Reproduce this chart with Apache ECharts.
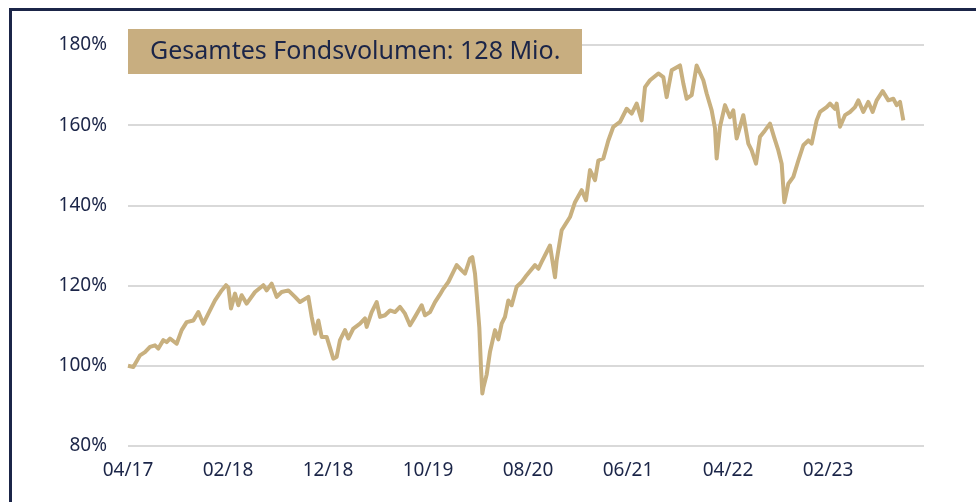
<!DOCTYPE html>
<html>
<head>
<meta charset="utf-8">
<script src="https://cdn.jsdelivr.net/npm/echarts@6/dist/echarts.min.js"></script>
<style>
  html, body { margin: 0; padding: 0; background: #fff; }
  #main { width: 976px; height: 502px; }
</style>
</head>
<body>
<div id="main"></div>
<script>
// Wertentwicklung (indexiert, 04/17 = 100%)
const dates = [
  '2017-04-01', '2017-04-17', '2017-05-07', '2017-05-22', '2017-06-07', '2017-06-22',
  '2017-07-02', '2017-07-17', '2017-07-27', '2017-08-07', '2017-08-27', '2017-09-12',
  '2017-09-27', '2017-10-17', '2017-11-02', '2017-11-17', '2017-12-02', '2017-12-22',
  '2018-01-12', '2018-01-25', '2018-02-02', '2018-02-10', '2018-02-22', '2018-03-02',
  '2018-03-12', '2018-03-27', '2018-04-22', '2018-05-17', '2018-05-27', '2018-06-12',
  '2018-06-27', '2018-07-12', '2018-08-02', '2018-08-22', '2018-09-07', '2018-10-02',
  '2018-10-12', '2018-10-22', '2018-11-02', '2018-11-12', '2018-11-27', '2018-12-17',
  '2018-12-27', '2019-01-07', '2019-01-22', '2019-02-02', '2019-02-17', '2019-03-07',
  '2019-03-22', '2019-03-27', '2019-04-12', '2019-04-27', '2019-05-07', '2019-05-22',
  '2019-06-07', '2019-06-22', '2019-07-07', '2019-07-22', '2019-08-07', '2019-08-22',
  '2019-09-12', '2019-09-22', '2019-10-07', '2019-10-22', '2019-11-07', '2019-11-17',
  '2019-12-02', '2019-12-17', '2019-12-27', '2020-01-12', '2020-01-22', '2020-02-07',
  '2020-02-14', '2020-02-22', '2020-02-27', '2020-03-05', '2020-03-10', '2020-03-14',
  '2020-03-17', '2020-03-27', '2020-04-07', '2020-04-22', '2020-05-02', '2020-05-12',
  '2020-05-22', '2020-06-02', '2020-06-12', '2020-06-27', '2020-07-12', '2020-07-27',
  '2020-08-22', '2020-09-02', '2020-09-12', '2020-10-07', '2020-10-22', '2020-10-27',
  '2020-11-12', '2020-12-07', '2020-12-22', '2021-01-12', '2021-01-25', '2021-02-07',
  '2021-02-22', '2021-03-02', '2021-03-17', '2021-04-02', '2021-04-17', '2021-05-07',
  '2021-05-27', '2021-06-12', '2021-06-27', '2021-07-12', '2021-07-22', '2021-08-07',
  '2021-09-02', '2021-09-17', '2021-09-27', '2021-10-12', '2021-11-07', '2021-11-17',
  '2021-11-27', '2021-12-12', '2021-12-27', '2022-01-17', '2022-01-27', '2022-02-12',
  '2022-02-22', '2022-02-27', '2022-03-07', '2022-03-22', '2022-04-07', '2022-04-17',
  '2022-04-27', '2022-05-17', '2022-06-02', '2022-06-12', '2022-06-25', '2022-07-07',
  '2022-07-22', '2022-08-07', '2022-08-19', '2022-09-02', '2022-09-12', '2022-09-20',
  '2022-10-02', '2022-10-17', '2022-11-02', '2022-11-17', '2022-12-02', '2022-12-12',
  '2022-12-27', '2023-01-07', '2023-01-27', '2023-02-07', '2023-02-22', '2023-02-27',
  '2023-03-07', '2023-03-22', '2023-04-07', '2023-04-22', '2023-05-02', '2023-05-17',
  '2023-06-02', '2023-06-15', '2023-06-27', '2023-07-15', '2023-08-02', '2023-08-17',
  '2023-08-27', '2023-09-07', '2023-09-17'
];
const values = [
  100.0, 99.7, 102.6, 103.4, 104.7, 105.1,
  104.3, 106.4, 105.9, 106.8, 105.5, 108.9,
  110.9, 111.3, 113.4, 110.5, 113.0, 116.3,
  118.8, 120.1, 119.5, 114.3, 118.0, 115.1,
  117.6, 115.5, 118.4, 120.1, 118.8, 120.5,
  117.2, 118.4, 118.8, 117.2, 115.9, 117.2,
  112.2, 108.0, 111.3, 107.2, 107.2, 101.8,
  102.2, 106.4, 108.9, 106.8, 109.3, 110.5,
  111.8, 109.7, 113.4, 115.9, 112.2, 112.6,
  113.8, 113.4, 114.7, 113.0, 110.1, 112.2,
  115.1, 112.6, 113.4, 115.9, 117.8, 119.2,
  120.9, 123.4, 125.1, 123.8, 123.0, 126.7,
  127.1, 123.0, 118.0, 109.5, 99.5, 93.1,
  94.5, 97.8, 103.5, 108.9, 106.6, 110.5,
  112.2, 116.3, 115.1, 119.7, 120.9, 122.6,
  125.1, 124.2, 125.9, 130.0, 122.1, 126.3,
  133.8, 137.1, 140.8, 143.8, 141.3, 148.8,
  146.3, 151.2, 151.7, 156.2, 159.6, 160.8,
  164.1, 162.9, 165.4, 161.2, 169.5, 171.2,
  172.9, 172.0, 167.0, 173.7, 174.9, 170.4,
  166.6, 167.5, 174.9, 171.2, 167.9, 163.7,
  159.2, 151.7, 159.6, 165.0, 162.0, 163.7,
  156.7, 162.5, 155.4, 153.7, 150.4, 157.1,
  158.7, 160.4, 157.1, 153.7, 150.4, 140.8,
  145.4, 147.1, 151.2, 155.0, 156.2, 155.4,
  161.2, 163.3, 164.5, 165.4, 164.1, 165.4,
  159.6, 162.5, 163.3, 164.5, 166.2, 163.3,
  165.8, 163.3, 166.2, 168.5, 166.2, 166.6,
  165.0, 165.8, 161.2
];
const yTicks = [80, 100, 120, 140, 160, 180];
const boxText = 'Gesamtes Fondsvolumen: 128 Mio.';

const navy = '#1b2548';
const gold = '#c8b07f';

// Monate seit 04/17
const monthIndex = (d) => {
  const [y, m, day] = d.split('-').map(Number);
  return (y - 2017) * 12 + (m - 4) + (day - 1) / 30;
};
const monthLabel = (v) => {
  const k = Math.round(v) + 3;
  const mm = (k % 12) + 1;
  const yy = 17 + Math.floor(k / 12);
  return (mm < 10 ? '0' : '') + mm + '/' + yy;
};

const seriesData = dates.map((d, i) => [monthIndex(d), values[i]]);

const chart = echarts.init(document.getElementById('main'), null, { renderer: 'canvas' });
chart.setOption({
  animation: false,
  backgroundColor: '#fff',
  grid: { left: 128, right: 52, top: 45, bottom: 56 },
  xAxis: {
    type: 'value',
    min: 0,
    max: 79.6,
    interval: 10,
    axisLine: { show: false },
    axisTick: { show: false },
    splitLine: { show: false },
    axisLabel: {
      color: navy,
      fontFamily: 'Noto Sans',
      fontSize: 19,
      margin: 15,
      showMaxLabel: false,
      formatter: monthLabel
    }
  },
  yAxis: {
    type: 'value',
    min: yTicks[0],
    max: yTicks[yTicks.length - 1],
    interval: 20,
    axisLine: { show: false },
    axisTick: { show: false },
    splitLine: { lineStyle: { color: '#d9d9d9', width: 2 } },
    axisLabel: {
      color: navy,
      fontFamily: 'Noto Sans',
      fontSize: 19,
      margin: 21,
      formatter: '{value}%'
    }
  },
  series: [{
    type: 'line',
    data: seriesData,
    showSymbol: false,
    lineStyle: { color: gold, width: 4, join: 'round' }
  }],
  graphic: [
    {
      type: 'rect',
      left: 8,
      top: 7,
      shape: { width: 1200, height: 800 },
      style: { fill: 'none', stroke: navy, lineWidth: 3 },
      z: 100
    },
    {
      type: 'rect',
      left: 128,
      top: 29,
      shape: { width: 454, height: 45 },
      style: { fill: '#c8ae80' },
      z: 50
    },
    {
      type: 'text',
      left: 150,
      top: 39,
      style: {
        text: boxText,
        fill: navy,
        font: '25px "Noto Sans"'
      },
      z: 51
    }
  ]
});
</script>
</body>
</html>
